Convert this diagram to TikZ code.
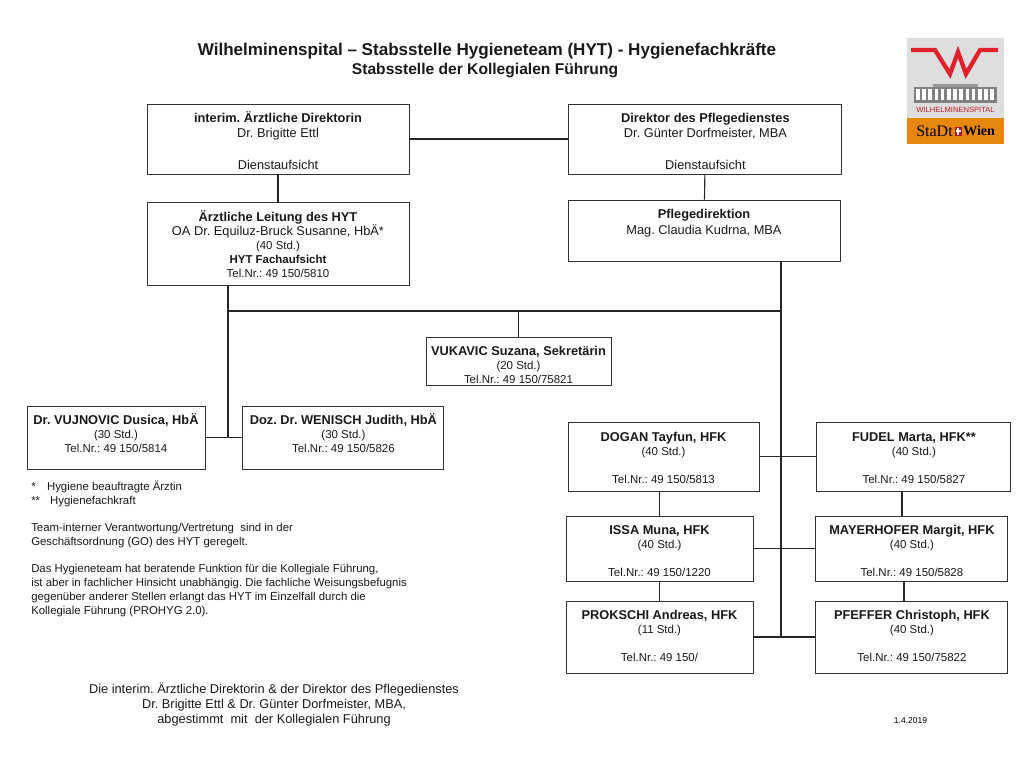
\documentclass[tikz,border=0pt]{standalone}
\usepackage{fontspec}
\setmainfont{Liberation Sans}
\newfontfamily\logofont{Liberation Serif}
\usetikzlibrary{positioning}
\definecolor{logoorange}{HTML}{E8870E}
\definecolor{logorot}{HTML}{E0202A}
\newcommand{\pxu}{0.75pt}
\newcommand{\klein}{\fontsize{8.6}{10.5}\selectfont}
\newcommand{\kopf}[1]{\textbf{#1}}
\newcommand{\oben}[1]{\rule{0pt}{#1pt}}
\newcommand{\unten}[1]{\rule[-#1pt]{0pt}{0pt}}

\begin{document}
\frenchspacing
\begin{tikzpicture}[
    x=0.75pt, y=-0.75pt,
    punkt/.style = {rectangle, draw=black!80, line width=0.7pt, inner sep=0pt, align=center,
      text=black!90, font=\fontsize{9.6}{11.75}\selectfont},
    eng/.style = {punkt, font=\fontsize{9.6}{10.5}\selectfont},
    lin/.style = {black!85, line width=0.85pt},
    freitext/.style = {inner sep=0pt, align=center, text=black!90, font=\fontsize{9.6}{11.2}\selectfont}
    ]
  \useasboundingbox (0,0) rectangle (1024,768);

  % titel
  \node[inner sep=0pt, text=black!90, font=\fontsize{12.8}{14}\selectfont\bfseries] (titel) at (487,51) {Wilhelminenspital – Stabsstelle Hygieneteam (HYT) - Hygienefachkräfte};
  \node[inner sep=0pt, text=black!90, font=\fontsize{11.7}{14}\selectfont\bfseries] (untertitel) at (485,70) {Stabsstelle der Kollegialen Führung};

  % leitung
  \node[punkt, minimum width=262*\pxu, minimum height=70*\pxu] (dirA) at (278,139) {\oben{10}\kopf{interim. Ärztliche Direktorin}\\ Dr. Brigitte Ettl\\ ~\\ Dienstaufsicht};
  \node[punkt, minimum width=273*\pxu, minimum height=70*\pxu] (dirP) [right=159*\pxu of dirA] {\oben{10}\kopf{Direktor des Pflegedienstes}\\ Dr. Günter Dorfmeister, MBA\\ ~\\ Dienstaufsicht};
  \node[eng, minimum width=262*\pxu, minimum height=83*\pxu] (leit) [below=28*\pxu of dirA] {\kopf{Ärztliche Leitung des HYT}\\ OA Dr. Equiluz-Bruck Susanne, HbÄ*\\ {\klein (40 Std.)}\\ {\klein\kopf{HYT Fachaufsicht}}\\ {\klein Tel.Nr.: 49 150/5810}};
  \node[punkt, minimum width=272*\pxu, minimum height=61*\pxu] (pfl) at (704,230.5) {\kopf{Pflegedirektion}\\ Mag. Claudia Kudrna, MBA\\ ~\unten{1.5}};

  \node[eng, minimum width=185*\pxu, minimum height=48*\pxu] (vuk) at (518.5,361) {\oben{12.5}\kopf{VUKAVIC Suzana, Sekretärin}\\ {\klein (20 Std.)}\\ {\klein Tel.Nr.: 49 150/75821}};
  \node[eng, minimum width=178*\pxu, minimum height=63*\pxu] (vuj) at (116,437.5) {\kopf{Dr. VUJNOVIC Dusica, HbÄ}\\ {\klein (30 Std.)}\\ {\klein Tel.Nr.: 49 150/5814}\unten{6.5}};
  \node[eng, minimum width=201*\pxu, minimum height=63*\pxu] (wen) [right=37*\pxu of vuj] {\kopf{Doz. Dr. WENISCH Judith, HbÄ}\\ {\klein (30 Std.)}\\ {\klein Tel.Nr.: 49 150/5826}\unten{6.5}};

  % hfk
  \node[eng, minimum width=191*\pxu, minimum height=69*\pxu] (dog) at (663.5,456.5) {\oben{8.5}\kopf{DOGAN Tayfun, HFK}\\ {\klein (40 Std.)}\\ ~\\ {\klein Tel.Nr.: 49 150/5813}};
  \node[eng, minimum width=194*\pxu, minimum height=69*\pxu] (fud) [right=57*\pxu of dog] {\oben{8.5}\kopf{FUDEL Marta, HFK**}\\ {\klein (40 Std.)}\\ ~\\ {\klein Tel.Nr.: 49 150/5827}};
  \node[eng, minimum width=187*\pxu, minimum height=65*\pxu] (iss) at (659.5,548.5) {\oben{10.7}\kopf{ISSA Muna, HFK}\\ {\klein (40 Std.)}\\ ~\\ {\klein Tel.Nr.: 49 150/1220}};
  \node[eng, minimum width=192*\pxu, minimum height=65*\pxu] (may) [right=62*\pxu of iss] {\oben{10.7}\kopf{MAYERHOFER Margit, HFK}\\ {\klein (40 Std.)}\\ ~\\ {\klein Tel.Nr.: 49 150/5828}};
  \node[eng, minimum width=187*\pxu, minimum height=72*\pxu] (pro) at (659.5,637) {\kopf{PROKSCHI Andreas, HFK}\\ {\klein (11 Std.)}\\ ~\\ {\klein Tel.Nr.: 49 150/}\unten{1.5}};
  \node[eng, minimum width=192*\pxu, minimum height=72*\pxu] (pfe) [right=62*\pxu of pro] {\kopf{PFEFFER Christoph, HFK}\\ {\klein (40 Std.)}\\ ~\\ {\klein Tel.Nr.: 49 150/75822}\unten{1.5}};

  % hinweise
  \node[inner sep=0pt, anchor=north west, align=left, text=black!90, font=\fontsize{8.55}{10.5}\selectfont] (hinweis) at (31,480.5) {*\hspace{8.5pt}Hygiene beauftragte Ärztin\\ **\hspace{7.5pt}Hygienefachkraft\\[9.9pt] Team-interner Verantwortung/Vertretung\ \ sind in der\\ Geschäftsordnung (GO) des HYT geregelt.\\[9.9pt] Das Hygieneteam hat beratende Funktion für die Kollegiale Führung,\\ ist aber in fachlicher Hinsicht unabhängig. Die fachliche Weisungsbefugnis\\ gegenüber anderer Stellen erlangt das HYT im Einzelfall durch die\\ Kollegiale Führung (PROHYG 2.0).};
  \node[freitext] (abstimmung) at (274,704.5) {Die interim. Ärztliche Direktorin \& der Direktor des Pflegedienstes\\ Dr. Brigitte Ettl \& Dr. Günter Dorfmeister, MBA,\\ abgestimmt\ \ mit\ \ der Kollegialen Führung};
  \node[inner sep=0pt, font=\fontsize{6.4}{7}\selectfont] (datum) at (910.5,721) {1.4.2019};

  % knoten
  \coordinate (jl) at (228,437.5);
  \coordinate (jt) at (781,311);
  \coordinate (jb) at (781,637);
  \coordinate (jf) at (902,500);
  \coordinate (jm) at (904,590);

  \draw[lin] (dirA) -- (dirP);
  \draw[lin] (dirA) -- (leit);
  \draw[lin] (dirP) -- (pfl);
  \draw[lin] (leit.south -| jl) -- (jl);
  \draw[lin] (vuj) -- (wen);
  \draw[lin] (jl |- jt) -- (jt);
  \draw[lin] (vuk.north) -- (vuk.north |- jt);
  \draw[lin] (pfl.south -| jb) -- (jb);
  \draw[lin] (dog) -- (fud);
  \draw[lin] (iss) -- (may);
  \draw[lin] (pro) -- (pfe);
  \draw[lin] (iss.north) -- (iss.north |- dog.south);
  \draw[lin] (iss) -- (pro);
  \draw[lin] (fud.south -| jf) -- (may.north -| jf);
  \draw[lin] (may.south -| jm) -- (pfe.north -| jm);

  % logo
  \fill[black!13] (907,38) rectangle (1004,118);
  \fill[logoorange] (907,118) rectangle (1004,144);
  \draw[logorot, line width=3.2pt, miter limit=10] (911,50) -- (935,50) -- (950,74) -- (958,52) -- (966,74) -- (980,50) -- (998,50);
  \fill[black!50] (914,87) rectangle (997,103);
  \fill[black!40] (933,84) rectangle (978,87);
  \foreach \i in {0,...,12} {
    \fill[white] (916+6.2*\i,89) rectangle (919.5+6.2*\i,100);
  }
  \node[inner sep=0pt, text=logorot!85!black, font=\fontsize{5.7}{6}\selectfont] (logoname) at (955.5,110) {WILHELMINENSPITAL};
  \node[inner sep=0pt, font=\logofont\fontsize{12}{12}\selectfont, anchor=east] (logostadt) at (953,131) {StaDt};
  \node[inner sep=0pt, font=\logofont\fontsize{10.5}{10}\selectfont\bfseries, anchor=west] (logowien) at (963,131) {Wien};
  \fill[logorot!80!black] (954.5,126.5) rectangle (961.5,135.5);
  \fill[white] (957.2,127.5) rectangle (958.8,134.5);
  \fill[white] (955.5,130) rectangle (960.5,132);
\end{tikzpicture}
\end{document}
